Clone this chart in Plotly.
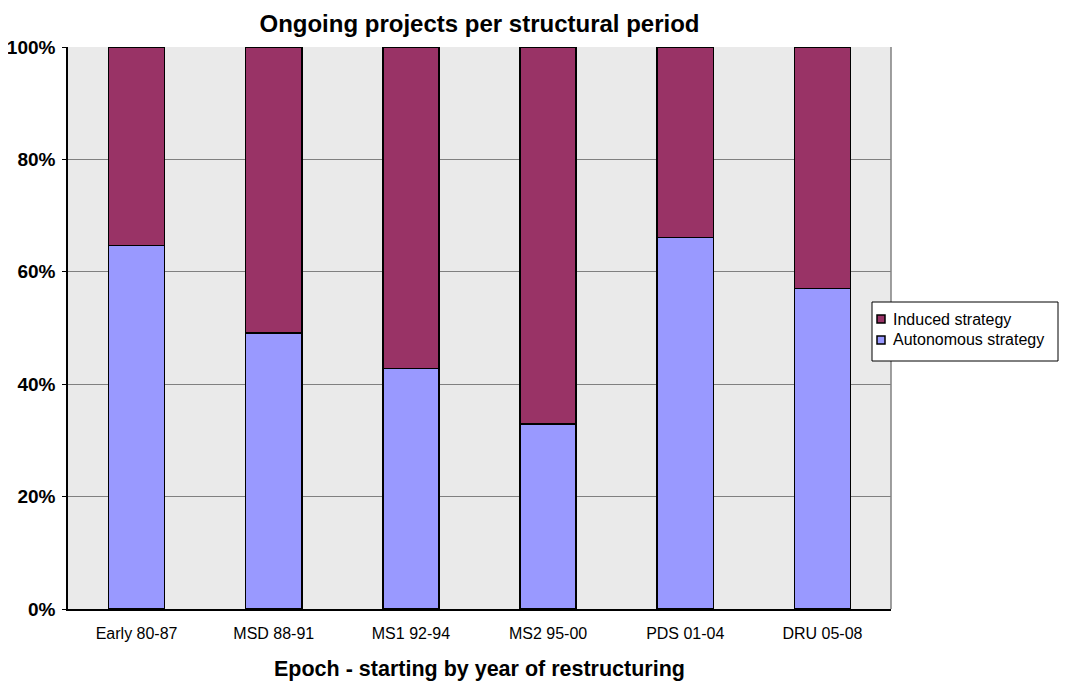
import plotly.graph_objects as go

categories = ["Early 80-87", "MSD 88-91", "MS1 92-94", "MS2 95-00", "PDS 01-04", "DRU 05-08"]
autonomous = [64.7, 49.1, 42.8, 32.9, 66.1, 57.0]
induced = [100 - a for a in autonomous]
series_names = ["Autonomous strategy", "Induced strategy"]
series_colors = ["#9999FF", "#993366"]

W, H = 1059, 677  # page body has an 8px margin
PL, PT, PW, PH = 60, 39, 823, 562

def px(xpage):
    return (xpage - 8 - PL) / PW

def py(ypage):
    return (PT + PH - (ypage - 8)) / PH

fig = go.Figure()
for name, color, vals in zip(series_names, series_colors, [autonomous, induced]):
    fig.add_trace(go.Bar(x=categories, y=[v / 100 for v in vals], name=name,
                         marker=dict(color=color, line=dict(color="black", width=1.5))))

fig.update_layout(
    barmode="stack",
    bargap=0.59,
    width=W, height=H,
    margin=dict(l=PL, r=W - PL - PW, t=PT, b=H - PT - PH, autoexpand=False),
    paper_bgcolor="white",
    plot_bgcolor="#EAEAEA",
    font=dict(family="Liberation Sans, Arial, sans-serif", color="black"),
    title=dict(text="<b>Ongoing projects per structural period</b>", x=(PL + PW / 2) / W,
               xanchor="center", y=1 - 16 / H, yanchor="middle", font=dict(size=24)),
    showlegend=False,
)
fig.update_yaxes(range=[0, 1], tickvals=[0, 0.2, 0.4, 0.6, 0.8, 1.0],
                 ticktext=["<b>0%</b>", "<b>20%</b>", "<b>40%</b>", "<b>60%</b>", "<b>80%</b>", "<b>100%</b>"],
                 tickfont=dict(size=19), showgrid=True, gridcolor="#808080", gridwidth=1.2,
                 ticks="outside", ticklen=4, tickcolor="black", ticklabelstandoff=3,
                 showline=True, linecolor="black", linewidth=1.5, zeroline=False, automargin=False)
fig.update_xaxes(tickfont=dict(size=16), showline=True, linecolor="black", linewidth=1.5,
                 mirror=False, ticks="", automargin=False, ticklabelstandoff=9,
                 title=dict(text="<b>Epoch - starting by year of restructuring</b>", font=dict(size=21.5), standoff=20))
fig.add_shape(type="line", xref="paper", yref="paper", x0=1, x1=1, y0=0, y1=1,
              line=dict(color="#808080", width=1.5))

# legend box (Induced on top, Autonomous below)
fig.add_shape(type="rect", xref="paper", yref="paper", x0=px(872), x1=px(1058), y0=py(361), y1=py(302),
              line=dict(color="black", width=1), fillcolor="white", layer="above")
for i, (name, color) in enumerate(zip(reversed(series_names), reversed(series_colors))):
    yc = 319 + 21 * i
    fig.add_shape(type="rect", xref="paper", yref="paper", x0=px(877), x1=px(885),
                  y0=py(yc + 4), y1=py(yc - 4), line=dict(color="black", width=1.5),
                  fillcolor=color, layer="above")
    fig.add_annotation(text=name, xref="paper", yref="paper", x=px(891), y=py(yc),
                       xanchor="left", yanchor="middle", showarrow=False, font=dict(size=16))

fig.write_html("out.html")
